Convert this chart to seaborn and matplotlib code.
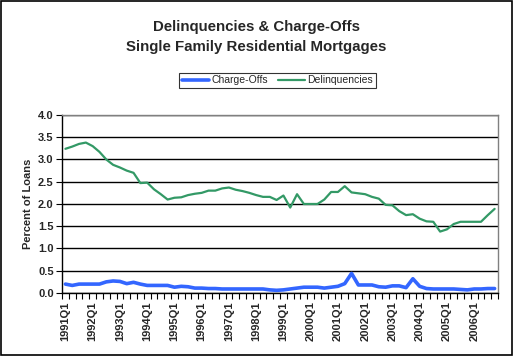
import numpy as np
import pandas as pd
import matplotlib
matplotlib.use("Agg")
import matplotlib.pyplot as plt
import seaborn as sns
from matplotlib.patches import Rectangle

# quarterly data, 1991Q1 - 2006Q4
years = list(range(1991, 2007))
quarters = [f"{y}Q{q}" for y in years for q in range(1, 5)]

delinquencies = [3.24, 3.29, 3.35, 3.38, 3.30, 3.17, 3.00, 2.88,
                 2.82, 2.75, 2.70, 2.47, 2.48, 2.33, 2.22, 2.10,
                 2.14, 2.15, 2.20, 2.23, 2.25, 2.30, 2.30, 2.35,
                 2.37, 2.32, 2.29, 2.25, 2.20, 2.16, 2.16, 2.09,
                 2.19, 1.92, 2.22, 2.00, 2.00, 2.00, 2.10, 2.27,
                 2.27, 2.40, 2.26, 2.24, 2.22, 2.16, 2.12, 1.98,
                 1.97, 1.84, 1.75, 1.77, 1.67, 1.61, 1.60, 1.38,
                 1.43, 1.55, 1.60, 1.60, 1.60, 1.60, 1.75, 1.89]

charge_offs = [0.20, 0.17, 0.20, 0.20, 0.20, 0.20, 0.25, 0.27,
               0.26, 0.21, 0.24, 0.20, 0.17, 0.17, 0.17, 0.17,
               0.13, 0.15, 0.14, 0.11, 0.11, 0.10, 0.10, 0.09,
               0.09, 0.09, 0.09, 0.09, 0.09, 0.09, 0.07, 0.06,
               0.07, 0.09, 0.11, 0.13, 0.13, 0.13, 0.11, 0.13,
               0.15, 0.21, 0.44, 0.18, 0.18, 0.18, 0.14, 0.13,
               0.16, 0.16, 0.12, 0.32, 0.15, 0.10, 0.09, 0.09,
               0.09, 0.09, 0.08, 0.07, 0.09, 0.09, 0.10, 0.10]

df = pd.DataFrame({
    "idx": list(range(len(quarters))) * 2,
    "value": charge_offs + delinquencies,
    "series": ["Charge-Offs"] * len(quarters) + ["Delinquencies"] * len(quarters),
})

sns.set_style("white")
plt.rcParams["font.family"] = ["Liberation Sans", "DejaVu Sans"]

fig = plt.figure(figsize=(5.13, 3.56), dpi=100)
ax = fig.add_axes([0.1209, 0.177, 0.8499, 0.5])

sns.lineplot(data=df, x="idx", y="value", hue="series",
             palette={"Charge-Offs": "#3366FF", "Delinquencies": "#339966"},
             ax=ax, legend=False)
ax.lines[0].set_linewidth(2.6)
ax.lines[1].set_linewidth(1.6)

ax.set_xlim(-0.5, len(quarters) - 0.5)
ax.set_ylim(0, 4.0)
ax.set_yticks(np.arange(0, 4.01, 0.5))
ax.set_yticklabels([f"{v:.1f}" for v in np.arange(0, 4.01, 0.5)],
                   fontsize=8, fontweight="bold")
ax.yaxis.grid(True, color="black", linewidth=1)
ax.set_axisbelow(True)

ax.set_xticks(range(0, len(quarters), 4))
ax.set_xticklabels(quarters[::4], rotation=90, fontsize=8, fontweight="bold")
ax.set_xticks(np.arange(-0.5, len(quarters), 1), minor=True)
ax.tick_params(axis="x", which="major", length=0, pad=6)
ax.tick_params(axis="x", which="minor", length=4, width=0.8, color="black", direction="out", bottom=True)
ax.tick_params(axis="y", length=4, width=0.8, color="black", direction="out", left=True, pad=2)

ax.set_xlabel("")
ax.set_ylabel("Percent of Loans", fontsize=8, fontweight="bold")

for side in ["left", "bottom"]:
    ax.spines[side].set_color("black")
    ax.spines[side].set_linewidth(1)
for side in ["top", "right"]:
    ax.spines[side].set_color("#808080")
    ax.spines[side].set_linewidth(1)

fig.text(0.5, 0.923, "Delinquencies & Charge-Offs", ha="center", va="center",
         fontsize=10.8, fontweight="bold")
fig.text(0.5, 0.867, "Single Family Residential Mortgages", ha="center", va="center",
         fontsize=10.8, fontweight="bold")

handles = [plt.Line2D([], [], color="#3366FF", linewidth=2.6),
           plt.Line2D([], [], color="#339966", linewidth=1.6)]
leg = fig.legend(handles, ["Charge-Offs", "Delinquencies"], loc="center",
                 bbox_to_anchor=(0.541, 0.774), ncol=2, fontsize=7.5,
                 frameon=True, fancybox=False, edgecolor="black",
                 handlelength=2.6, handletextpad=0.2, columnspacing=1.0,
                 borderpad=0.25)
leg.get_frame().set_linewidth(0.8)

fig.patches.append(Rectangle((0.002, 0.003), 0.996, 0.994, transform=fig.transFigure,
                             fill=False, edgecolor="black", linewidth=1.2))

fig.savefig("out.png", dpi=100)
